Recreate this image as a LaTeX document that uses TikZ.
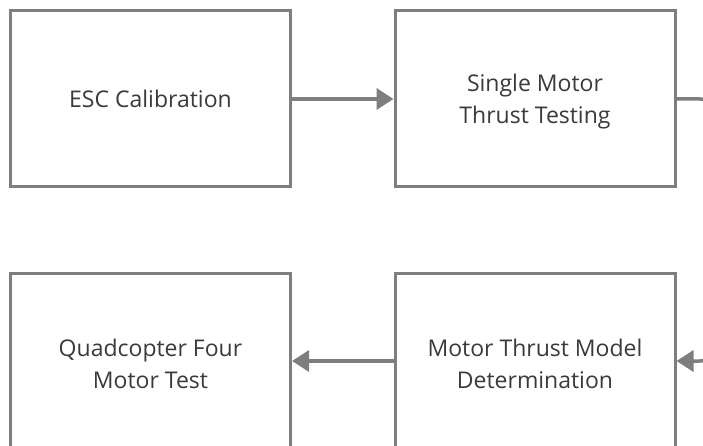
\documentclass[tikz,border=0pt]{standalone}
\usepackage{fontspec}
\setmainfont{Open Sans}
\usetikzlibrary{arrows.meta}
\definecolor{edgegray}{HTML}{7E7E7E}
\definecolor{textgray}{HTML}{3A3A3A}
\tikzset{
  stagebox/.style={draw=edgegray, line width=3pt, fill=white,
    minimum width=280pt, minimum height=176pt, inner sep=0pt,
    align=center, text=textgray,
    font=\fontsize{23pt}{32pt}\selectfont},
  % two-line labels sit a little below the middle of the box
  twoline/.style={text height=55pt},
  flowarrow/.style={draw=edgegray, line width=3.5pt,
    -{Triangle[length=17pt,width=21pt]}},
}
\begin{document}
\begin{tikzpicture}[x=1pt,y=-1pt]
  \useasboundingbox (0,0) rectangle (703,446);
  \clip (0,0) rectangle (703,446);
  \node[stagebox] (esc) at (150.5,99) {ESC Calibration};
  \node[stagebox, twoline] (single) at (535,99) {Single Motor\\Thrust Testing};
  \node[stagebox, twoline] (quad) at (150.5,361) {Quadcopter Four\\Motor Test};
  \node[stagebox, twoline] (model) at (535,361) {Motor Thrust Model\\Determination};
  \coordinate (turnA) at (722,99);
  \coordinate (turnB) at (722,361);
  \draw[flowarrow] (esc.east) -- (single.west);
  \draw[flowarrow, rounded corners=22pt] (single.east) -- (turnA) -- (turnB) -- (model.east);
  \draw[flowarrow] (model.west) -- (quad.east);
\end{tikzpicture}
\end{document}
